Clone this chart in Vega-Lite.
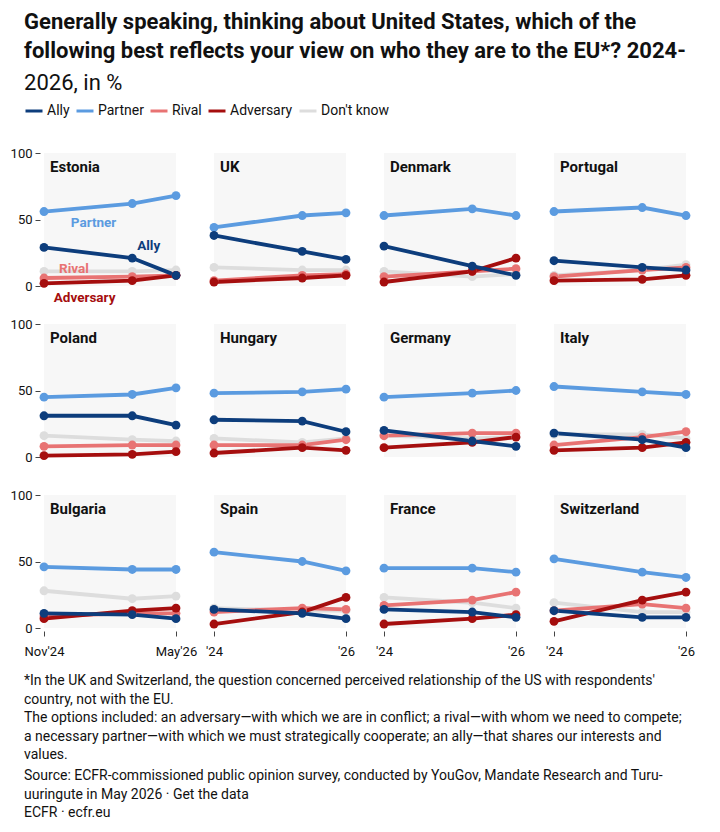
{
  "$schema": "https://vega.github.io/schema/vega-lite/v6.json",
  "background": "white",
  "padding": {"left": 10, "top": 11, "right": 10, "bottom": 8},
  "title": {
    "text": ["Generally speaking, thinking about United States, which of the", "following best reflects your view on who they are to the EU*? 2024-"],
    "subtitle": "2026, in %",
    "anchor": "start", "frame": "bounds", "dx": 14,
    "fontSize": 22, "fontWeight": "bold", "lineHeight": 29, "color": "#111",
    "subtitleFontSize": 22, "subtitleFontWeight": "normal", "subtitleColor": "#111", "subtitleLineHeight": 29, "subtitlePadding": 10,
    "offset": 6
  },
  "config": {
    "font": "Roboto",
    "view": {"stroke": null, "fill": "#f7f7f7"},
    "axis": {"labelFont": "Roboto", "labelFontSize": 13, "labelColor": "#111", "tickColor": "#444", "domain": false, "grid": false, "title": null}
  },
  "data": {"values": [
    {"country": "Estonia", "wave": "2024-11-15T00:00:00", "Ally": 29, "Partner": 56, "Rival": 6, "Adversary": 2, "DK": 11},
    {"country": "Estonia", "wave": "2025-11-15T00:00:00", "Ally": 21, "Partner": 62, "Rival": 7, "Adversary": 4, "DK": 11},
    {"country": "Estonia", "wave": "2026-05-15T00:00:00", "Ally": 8, "Partner": 68, "Rival": 8, "Adversary": 8, "DK": 12},
    {"country": "UK", "wave": "2024-11-15T00:00:00", "Ally": 38, "Partner": 44, "Rival": 4, "Adversary": 3, "DK": 14},
    {"country": "UK", "wave": "2025-11-15T00:00:00", "Ally": 26, "Partner": 53, "Rival": 8, "Adversary": 6, "DK": 12},
    {"country": "UK", "wave": "2026-05-15T00:00:00", "Ally": 20, "Partner": 55, "Rival": 9, "Adversary": 8, "DK": 12},
    {"country": "Denmark", "wave": "2024-11-15T00:00:00", "Ally": 30, "Partner": 53, "Rival": 7, "Adversary": 3, "DK": 11},
    {"country": "Denmark", "wave": "2025-11-15T00:00:00", "Ally": 15, "Partner": 58, "Rival": 11, "Adversary": 11, "DK": 7},
    {"country": "Denmark", "wave": "2026-05-15T00:00:00", "Ally": 8, "Partner": 53, "Rival": 13, "Adversary": 21, "DK": 9},
    {"country": "Portugal", "wave": "2024-11-15T00:00:00", "Ally": 19, "Partner": 56, "Rival": 7, "Adversary": 4, "DK": 8},
    {"country": "Portugal", "wave": "2025-11-15T00:00:00", "Ally": 14, "Partner": 59, "Rival": 12, "Adversary": 5, "DK": 12},
    {"country": "Portugal", "wave": "2026-05-15T00:00:00", "Ally": 12, "Partner": 53, "Rival": 14, "Adversary": 8, "DK": 16},
    {"country": "Poland", "wave": "2024-11-15T00:00:00", "Ally": 31, "Partner": 45, "Rival": 8, "Adversary": 1, "DK": 16},
    {"country": "Poland", "wave": "2025-11-15T00:00:00", "Ally": 31, "Partner": 47, "Rival": 9, "Adversary": 2, "DK": 13},
    {"country": "Poland", "wave": "2026-05-15T00:00:00", "Ally": 24, "Partner": 52, "Rival": 9, "Adversary": 4, "DK": 12},
    {"country": "Hungary", "wave": "2024-11-15T00:00:00", "Ally": 28, "Partner": 48, "Rival": 9, "Adversary": 3, "DK": 14},
    {"country": "Hungary", "wave": "2025-11-15T00:00:00", "Ally": 27, "Partner": 49, "Rival": 9, "Adversary": 7, "DK": 11},
    {"country": "Hungary", "wave": "2026-05-15T00:00:00", "Ally": 19, "Partner": 51, "Rival": 13, "Adversary": 5, "DK": 14},
    {"country": "Germany", "wave": "2024-11-15T00:00:00", "Ally": 20, "Partner": 45, "Rival": 16, "Adversary": 7, "DK": 16},
    {"country": "Germany", "wave": "2025-11-15T00:00:00", "Ally": 12, "Partner": 48, "Rival": 18, "Adversary": 11, "DK": 14},
    {"country": "Germany", "wave": "2026-05-15T00:00:00", "Ally": 8, "Partner": 50, "Rival": 18, "Adversary": 15, "DK": 15},
    {"country": "Italy", "wave": "2024-11-15T00:00:00", "Ally": 18, "Partner": 53, "Rival": 9, "Adversary": 5, "DK": 17},
    {"country": "Italy", "wave": "2025-11-15T00:00:00", "Ally": 13, "Partner": 49, "Rival": 15, "Adversary": 7, "DK": 17},
    {"country": "Italy", "wave": "2026-05-15T00:00:00", "Ally": 7, "Partner": 47, "Rival": 19, "Adversary": 11, "DK": 14},
    {"country": "Bulgaria", "wave": "2024-11-15T00:00:00", "Ally": 11, "Partner": 46, "Rival": 9, "Adversary": 7, "DK": 28},
    {"country": "Bulgaria", "wave": "2025-11-15T00:00:00", "Ally": 10, "Partner": 44, "Rival": 11, "Adversary": 13, "DK": 22},
    {"country": "Bulgaria", "wave": "2026-05-15T00:00:00", "Ally": 7, "Partner": 44, "Rival": 11, "Adversary": 15, "DK": 24},
    {"country": "Spain", "wave": "2024-11-15T00:00:00", "Ally": 14, "Partner": 57, "Rival": 12, "Adversary": 3, "DK": 15},
    {"country": "Spain", "wave": "2025-11-15T00:00:00", "Ally": 11, "Partner": 50, "Rival": 15, "Adversary": 12, "DK": 13},
    {"country": "Spain", "wave": "2026-05-15T00:00:00", "Ally": 7, "Partner": 43, "Rival": 14, "Adversary": 23, "DK": 13},
    {"country": "France", "wave": "2024-11-15T00:00:00", "Ally": 14, "Partner": 45, "Rival": 17, "Adversary": 3, "DK": 23},
    {"country": "France", "wave": "2025-11-15T00:00:00", "Ally": 12, "Partner": 45, "Rival": 21, "Adversary": 7, "DK": 19},
    {"country": "France", "wave": "2026-05-15T00:00:00", "Ally": 8, "Partner": 42, "Rival": 27, "Adversary": 10, "DK": 15},
    {"country": "Switzerland", "wave": "2024-11-15T00:00:00", "Ally": 13, "Partner": 52, "Rival": 13, "Adversary": 5, "DK": 19},
    {"country": "Switzerland", "wave": "2025-11-15T00:00:00", "Ally": 8, "Partner": 42, "Rival": 18, "Adversary": 21, "DK": 12},
    {"country": "Switzerland", "wave": "2026-05-15T00:00:00", "Ally": 8, "Partner": 38, "Rival": 15, "Adversary": 27, "DK": 12}
  ]},
  "spacing": 16,
  "vconcat": [
    {
      "columns": 4,
      "bounds": "flush",
      "spacing": 38,
      "concat": [
        {
          "width": 132, "height": 133,
          "transform": [{"filter": {"field": "country", "equal": "Estonia"}}, {"fold": ["DK", "Rival", "Partner", "Adversary", "Ally"], "as": ["series", "value"]}],
          "layer": [
            {"mark": {"type": "line", "strokeWidth": 3.8, "point": {"filled": true, "size": 78, "opacity": 1}}, "encoding": {
              "x": {"field": "wave", "type": "temporal", "scale": {"domain": [{"year": 2024, "month": 11, "date": 15}, {"year": 2026, "month": 5, "date": 15}], "nice": false}, "axis": null},
              "y": {"field": "value", "type": "quantitative", "scale": {"domain": [0, 100], "nice": false}, "axis": {"values": [0, 50, 100], "offset": 4, "tickSize": 5, "labelPadding": 3}},
              "color": {"field": "series", "type": "nominal", "scale": {"domain": ["Ally", "Partner", "Rival", "Adversary", "DK"], "range": ["#0d3d7c", "#5b9be0", "#e87373", "#a50e0e", "#dddddd"]}, "legend": {"orient": "none", "legendX": -20, "legendY": -52, "direction": "horizontal", "title": null, "symbolType": "stroke", "symbolStrokeWidth": 3, "symbolSize": 289, "labelFontSize": 14, "labelColor": "#111", "labelOffset": 3, "columnPadding": 0, "labelExpr": "datum.label == 'DK' ? \"Don't know\" : datum.label"}}}},
            {"transform": [{"filter": "datum.series === 'Ally' && year(datum.wave) === 2024"}], "mark": {"type": "text", "align": "left", "baseline": "alphabetic", "dx": 6, "dy": 19, "fontSize": 15, "fontWeight": "bold", "color": "#111"}, "encoding": {"x": {"field": "wave", "type": "temporal"}, "y": {"datum": 100}, "text": {"field": "country"}}},
            {
              "data": {"values": [
                {"series": "Partner", "at": "2025-06-08T00:00:00", "v": 44.7},
                {"series": "Ally", "at": "2026-01-22T00:00:00", "v": 27},
                {"series": "Rival", "at": "2025-03-19T00:00:00", "v": 9.8},
                {"series": "Adversary", "at": "2025-05-02T00:00:00", "v": -12}
              ]},
              "mark": {"type": "text", "align": "center", "baseline": "alphabetic", "fontSize": 13.5, "fontWeight": "bold"},
              "encoding": {
                "x": {"field": "at", "type": "temporal"},
                "y": {"field": "v", "type": "quantitative"},
                "text": {"field": "series"},
                "color": {"field": "series", "type": "nominal", "scale": {"domain": ["Ally", "Partner", "Rival", "Adversary", "DK"], "range": ["#0d3d7c", "#5b9be0", "#e87373", "#a50e0e", "#dddddd"]}, "legend": {"orient": "none", "legendX": -20, "legendY": -52, "direction": "horizontal", "title": null, "symbolType": "stroke", "symbolStrokeWidth": 3, "symbolSize": 289, "labelFontSize": 14, "labelColor": "#111", "labelOffset": 3, "columnPadding": 0, "labelExpr": "datum.label == 'DK' ? \"Don't know\" : datum.label"}}
              }
            }
          ]
        },
        {
          "width": 132, "height": 133,
          "transform": [{"filter": {"field": "country", "equal": "UK"}}, {"fold": ["DK", "Rival", "Partner", "Adversary", "Ally"], "as": ["series", "value"]}],
          "layer": [
            {"mark": {"type": "line", "strokeWidth": 3.8, "point": {"filled": true, "size": 78, "opacity": 1}}, "encoding": {
              "x": {"field": "wave", "type": "temporal", "scale": {"domain": [{"year": 2024, "month": 11, "date": 15}, {"year": 2026, "month": 5, "date": 15}], "nice": false}, "axis": null},
              "y": {"field": "value", "type": "quantitative", "scale": {"domain": [0, 100], "nice": false}, "axis": null},
              "color": {"field": "series", "type": "nominal", "scale": {"domain": ["Ally", "Partner", "Rival", "Adversary", "DK"], "range": ["#0d3d7c", "#5b9be0", "#e87373", "#a50e0e", "#dddddd"]}, "legend": {"orient": "none", "legendX": -20, "legendY": -52, "direction": "horizontal", "title": null, "symbolType": "stroke", "symbolStrokeWidth": 3, "symbolSize": 289, "labelFontSize": 14, "labelColor": "#111", "labelOffset": 3, "columnPadding": 0, "labelExpr": "datum.label == 'DK' ? \"Don't know\" : datum.label"}}}},
            {"transform": [{"filter": "datum.series === 'Ally' && year(datum.wave) === 2024"}], "mark": {"type": "text", "align": "left", "baseline": "alphabetic", "dx": 6, "dy": 19, "fontSize": 15, "fontWeight": "bold", "color": "#111"}, "encoding": {"x": {"field": "wave", "type": "temporal"}, "y": {"datum": 100}, "text": {"field": "country"}}}
          ]
        },
        {
          "width": 132, "height": 133,
          "transform": [{"filter": {"field": "country", "equal": "Denmark"}}, {"fold": ["DK", "Rival", "Partner", "Adversary", "Ally"], "as": ["series", "value"]}],
          "layer": [
            {"mark": {"type": "line", "strokeWidth": 3.8, "point": {"filled": true, "size": 78, "opacity": 1}}, "encoding": {
              "x": {"field": "wave", "type": "temporal", "scale": {"domain": [{"year": 2024, "month": 11, "date": 15}, {"year": 2026, "month": 5, "date": 15}], "nice": false}, "axis": null},
              "y": {"field": "value", "type": "quantitative", "scale": {"domain": [0, 100], "nice": false}, "axis": null},
              "color": {"field": "series", "type": "nominal", "scale": {"domain": ["Ally", "Partner", "Rival", "Adversary", "DK"], "range": ["#0d3d7c", "#5b9be0", "#e87373", "#a50e0e", "#dddddd"]}, "legend": {"orient": "none", "legendX": -20, "legendY": -52, "direction": "horizontal", "title": null, "symbolType": "stroke", "symbolStrokeWidth": 3, "symbolSize": 289, "labelFontSize": 14, "labelColor": "#111", "labelOffset": 3, "columnPadding": 0, "labelExpr": "datum.label == 'DK' ? \"Don't know\" : datum.label"}}}},
            {"transform": [{"filter": "datum.series === 'Ally' && year(datum.wave) === 2024"}], "mark": {"type": "text", "align": "left", "baseline": "alphabetic", "dx": 6, "dy": 19, "fontSize": 15, "fontWeight": "bold", "color": "#111"}, "encoding": {"x": {"field": "wave", "type": "temporal"}, "y": {"datum": 100}, "text": {"field": "country"}}}
          ]
        },
        {
          "width": 132, "height": 133,
          "transform": [{"filter": {"field": "country", "equal": "Portugal"}}, {"fold": ["DK", "Rival", "Partner", "Adversary", "Ally"], "as": ["series", "value"]}],
          "layer": [
            {"mark": {"type": "line", "strokeWidth": 3.8, "point": {"filled": true, "size": 78, "opacity": 1}}, "encoding": {
              "x": {"field": "wave", "type": "temporal", "scale": {"domain": [{"year": 2024, "month": 11, "date": 15}, {"year": 2026, "month": 5, "date": 15}], "nice": false}, "axis": null},
              "y": {"field": "value", "type": "quantitative", "scale": {"domain": [0, 100], "nice": false}, "axis": null},
              "color": {"field": "series", "type": "nominal", "scale": {"domain": ["Ally", "Partner", "Rival", "Adversary", "DK"], "range": ["#0d3d7c", "#5b9be0", "#e87373", "#a50e0e", "#dddddd"]}, "legend": {"orient": "none", "legendX": -20, "legendY": -52, "direction": "horizontal", "title": null, "symbolType": "stroke", "symbolStrokeWidth": 3, "symbolSize": 289, "labelFontSize": 14, "labelColor": "#111", "labelOffset": 3, "columnPadding": 0, "labelExpr": "datum.label == 'DK' ? \"Don't know\" : datum.label"}}}},
            {"transform": [{"filter": "datum.series === 'Ally' && year(datum.wave) === 2024"}], "mark": {"type": "text", "align": "left", "baseline": "alphabetic", "dx": 6, "dy": 19, "fontSize": 15, "fontWeight": "bold", "color": "#111"}, "encoding": {"x": {"field": "wave", "type": "temporal"}, "y": {"datum": 100}, "text": {"field": "country"}}}
          ]
        },
        {
          "width": 132, "height": 133,
          "transform": [{"filter": {"field": "country", "equal": "Poland"}}, {"fold": ["DK", "Rival", "Partner", "Adversary", "Ally"], "as": ["series", "value"]}],
          "layer": [
            {"mark": {"type": "line", "strokeWidth": 3.8, "point": {"filled": true, "size": 78, "opacity": 1}}, "encoding": {
              "x": {"field": "wave", "type": "temporal", "scale": {"domain": [{"year": 2024, "month": 11, "date": 15}, {"year": 2026, "month": 5, "date": 15}], "nice": false}, "axis": null},
              "y": {"field": "value", "type": "quantitative", "scale": {"domain": [0, 100], "nice": false}, "axis": {"values": [0, 50, 100], "offset": 4, "tickSize": 5, "labelPadding": 3}},
              "color": {"field": "series", "type": "nominal", "scale": {"domain": ["Ally", "Partner", "Rival", "Adversary", "DK"], "range": ["#0d3d7c", "#5b9be0", "#e87373", "#a50e0e", "#dddddd"]}, "legend": {"orient": "none", "legendX": -20, "legendY": -52, "direction": "horizontal", "title": null, "symbolType": "stroke", "symbolStrokeWidth": 3, "symbolSize": 289, "labelFontSize": 14, "labelColor": "#111", "labelOffset": 3, "columnPadding": 0, "labelExpr": "datum.label == 'DK' ? \"Don't know\" : datum.label"}}}},
            {"transform": [{"filter": "datum.series === 'Ally' && year(datum.wave) === 2024"}], "mark": {"type": "text", "align": "left", "baseline": "alphabetic", "dx": 6, "dy": 19, "fontSize": 15, "fontWeight": "bold", "color": "#111"}, "encoding": {"x": {"field": "wave", "type": "temporal"}, "y": {"datum": 100}, "text": {"field": "country"}}}
          ]
        },
        {
          "width": 132, "height": 133,
          "transform": [{"filter": {"field": "country", "equal": "Hungary"}}, {"fold": ["DK", "Rival", "Partner", "Adversary", "Ally"], "as": ["series", "value"]}],
          "layer": [
            {"mark": {"type": "line", "strokeWidth": 3.8, "point": {"filled": true, "size": 78, "opacity": 1}}, "encoding": {
              "x": {"field": "wave", "type": "temporal", "scale": {"domain": [{"year": 2024, "month": 11, "date": 15}, {"year": 2026, "month": 5, "date": 15}], "nice": false}, "axis": null},
              "y": {"field": "value", "type": "quantitative", "scale": {"domain": [0, 100], "nice": false}, "axis": null},
              "color": {"field": "series", "type": "nominal", "scale": {"domain": ["Ally", "Partner", "Rival", "Adversary", "DK"], "range": ["#0d3d7c", "#5b9be0", "#e87373", "#a50e0e", "#dddddd"]}, "legend": {"orient": "none", "legendX": -20, "legendY": -52, "direction": "horizontal", "title": null, "symbolType": "stroke", "symbolStrokeWidth": 3, "symbolSize": 289, "labelFontSize": 14, "labelColor": "#111", "labelOffset": 3, "columnPadding": 0, "labelExpr": "datum.label == 'DK' ? \"Don't know\" : datum.label"}}}},
            {"transform": [{"filter": "datum.series === 'Ally' && year(datum.wave) === 2024"}], "mark": {"type": "text", "align": "left", "baseline": "alphabetic", "dx": 6, "dy": 19, "fontSize": 15, "fontWeight": "bold", "color": "#111"}, "encoding": {"x": {"field": "wave", "type": "temporal"}, "y": {"datum": 100}, "text": {"field": "country"}}}
          ]
        },
        {
          "width": 132, "height": 133,
          "transform": [{"filter": {"field": "country", "equal": "Germany"}}, {"fold": ["DK", "Rival", "Partner", "Adversary", "Ally"], "as": ["series", "value"]}],
          "layer": [
            {"mark": {"type": "line", "strokeWidth": 3.8, "point": {"filled": true, "size": 78, "opacity": 1}}, "encoding": {
              "x": {"field": "wave", "type": "temporal", "scale": {"domain": [{"year": 2024, "month": 11, "date": 15}, {"year": 2026, "month": 5, "date": 15}], "nice": false}, "axis": null},
              "y": {"field": "value", "type": "quantitative", "scale": {"domain": [0, 100], "nice": false}, "axis": null},
              "color": {"field": "series", "type": "nominal", "scale": {"domain": ["Ally", "Partner", "Rival", "Adversary", "DK"], "range": ["#0d3d7c", "#5b9be0", "#e87373", "#a50e0e", "#dddddd"]}, "legend": {"orient": "none", "legendX": -20, "legendY": -52, "direction": "horizontal", "title": null, "symbolType": "stroke", "symbolStrokeWidth": 3, "symbolSize": 289, "labelFontSize": 14, "labelColor": "#111", "labelOffset": 3, "columnPadding": 0, "labelExpr": "datum.label == 'DK' ? \"Don't know\" : datum.label"}}}},
            {"transform": [{"filter": "datum.series === 'Ally' && year(datum.wave) === 2024"}], "mark": {"type": "text", "align": "left", "baseline": "alphabetic", "dx": 6, "dy": 19, "fontSize": 15, "fontWeight": "bold", "color": "#111"}, "encoding": {"x": {"field": "wave", "type": "temporal"}, "y": {"datum": 100}, "text": {"field": "country"}}}
          ]
        },
        {
          "width": 132, "height": 133,
          "transform": [{"filter": {"field": "country", "equal": "Italy"}}, {"fold": ["DK", "Rival", "Partner", "Adversary", "Ally"], "as": ["series", "value"]}],
          "layer": [
            {"mark": {"type": "line", "strokeWidth": 3.8, "point": {"filled": true, "size": 78, "opacity": 1}}, "encoding": {
              "x": {"field": "wave", "type": "temporal", "scale": {"domain": [{"year": 2024, "month": 11, "date": 15}, {"year": 2026, "month": 5, "date": 15}], "nice": false}, "axis": null},
              "y": {"field": "value", "type": "quantitative", "scale": {"domain": [0, 100], "nice": false}, "axis": null},
              "color": {"field": "series", "type": "nominal", "scale": {"domain": ["Ally", "Partner", "Rival", "Adversary", "DK"], "range": ["#0d3d7c", "#5b9be0", "#e87373", "#a50e0e", "#dddddd"]}, "legend": {"orient": "none", "legendX": -20, "legendY": -52, "direction": "horizontal", "title": null, "symbolType": "stroke", "symbolStrokeWidth": 3, "symbolSize": 289, "labelFontSize": 14, "labelColor": "#111", "labelOffset": 3, "columnPadding": 0, "labelExpr": "datum.label == 'DK' ? \"Don't know\" : datum.label"}}}},
            {"transform": [{"filter": "datum.series === 'Ally' && year(datum.wave) === 2024"}], "mark": {"type": "text", "align": "left", "baseline": "alphabetic", "dx": 6, "dy": 19, "fontSize": 15, "fontWeight": "bold", "color": "#111"}, "encoding": {"x": {"field": "wave", "type": "temporal"}, "y": {"datum": 100}, "text": {"field": "country"}}}
          ]
        },
        {
          "width": 132, "height": 133,
          "transform": [{"filter": {"field": "country", "equal": "Bulgaria"}}, {"fold": ["DK", "Rival", "Partner", "Adversary", "Ally"], "as": ["series", "value"]}],
          "layer": [
            {"mark": {"type": "line", "strokeWidth": 3.8, "point": {"filled": true, "size": 78, "opacity": 1}}, "encoding": {
              "x": {"field": "wave", "type": "temporal", "scale": {"domain": [{"year": 2024, "month": 11, "date": 15}, {"year": 2026, "month": 5, "date": 15}], "nice": false}, "axis": {"values": [{"year": 2024, "month": 11, "date": 15}, {"year": 2026, "month": 5, "date": 15}], "format": "%b'%y", "formatType": "time", "offset": 3, "tickSize": 5, "labelPadding": 9, "labelFlush": false, "labelOverlap": false}},
              "y": {"field": "value", "type": "quantitative", "scale": {"domain": [0, 100], "nice": false}, "axis": {"values": [0, 50, 100], "offset": 4, "tickSize": 5, "labelPadding": 3}},
              "color": {"field": "series", "type": "nominal", "scale": {"domain": ["Ally", "Partner", "Rival", "Adversary", "DK"], "range": ["#0d3d7c", "#5b9be0", "#e87373", "#a50e0e", "#dddddd"]}, "legend": {"orient": "none", "legendX": -20, "legendY": -52, "direction": "horizontal", "title": null, "symbolType": "stroke", "symbolStrokeWidth": 3, "symbolSize": 289, "labelFontSize": 14, "labelColor": "#111", "labelOffset": 3, "columnPadding": 0, "labelExpr": "datum.label == 'DK' ? \"Don't know\" : datum.label"}}}},
            {"transform": [{"filter": "datum.series === 'Ally' && year(datum.wave) === 2024"}], "mark": {"type": "text", "align": "left", "baseline": "alphabetic", "dx": 6, "dy": 19, "fontSize": 15, "fontWeight": "bold", "color": "#111"}, "encoding": {"x": {"field": "wave", "type": "temporal"}, "y": {"datum": 100}, "text": {"field": "country"}}}
          ]
        },
        {
          "width": 132, "height": 133,
          "transform": [{"filter": {"field": "country", "equal": "Spain"}}, {"fold": ["DK", "Rival", "Partner", "Adversary", "Ally"], "as": ["series", "value"]}],
          "layer": [
            {"mark": {"type": "line", "strokeWidth": 3.8, "point": {"filled": true, "size": 78, "opacity": 1}}, "encoding": {
              "x": {"field": "wave", "type": "temporal", "scale": {"domain": [{"year": 2024, "month": 11, "date": 15}, {"year": 2026, "month": 5, "date": 15}], "nice": false}, "axis": {"values": [{"year": 2024, "month": 11, "date": 15}, {"year": 2026, "month": 5, "date": 15}], "format": "'%y", "formatType": "time", "offset": 3, "tickSize": 5, "labelPadding": 9, "labelFlush": false, "labelOverlap": false}},
              "y": {"field": "value", "type": "quantitative", "scale": {"domain": [0, 100], "nice": false}, "axis": null},
              "color": {"field": "series", "type": "nominal", "scale": {"domain": ["Ally", "Partner", "Rival", "Adversary", "DK"], "range": ["#0d3d7c", "#5b9be0", "#e87373", "#a50e0e", "#dddddd"]}, "legend": {"orient": "none", "legendX": -20, "legendY": -52, "direction": "horizontal", "title": null, "symbolType": "stroke", "symbolStrokeWidth": 3, "symbolSize": 289, "labelFontSize": 14, "labelColor": "#111", "labelOffset": 3, "columnPadding": 0, "labelExpr": "datum.label == 'DK' ? \"Don't know\" : datum.label"}}}},
            {"transform": [{"filter": "datum.series === 'Ally' && year(datum.wave) === 2024"}], "mark": {"type": "text", "align": "left", "baseline": "alphabetic", "dx": 6, "dy": 19, "fontSize": 15, "fontWeight": "bold", "color": "#111"}, "encoding": {"x": {"field": "wave", "type": "temporal"}, "y": {"datum": 100}, "text": {"field": "country"}}}
          ]
        },
        {
          "width": 132, "height": 133,
          "transform": [{"filter": {"field": "country", "equal": "France"}}, {"fold": ["DK", "Rival", "Partner", "Adversary", "Ally"], "as": ["series", "value"]}],
          "layer": [
            {"mark": {"type": "line", "strokeWidth": 3.8, "point": {"filled": true, "size": 78, "opacity": 1}}, "encoding": {
              "x": {"field": "wave", "type": "temporal", "scale": {"domain": [{"year": 2024, "month": 11, "date": 15}, {"year": 2026, "month": 5, "date": 15}], "nice": false}, "axis": {"values": [{"year": 2024, "month": 11, "date": 15}, {"year": 2026, "month": 5, "date": 15}], "format": "'%y", "formatType": "time", "offset": 3, "tickSize": 5, "labelPadding": 9, "labelFlush": false, "labelOverlap": false}},
              "y": {"field": "value", "type": "quantitative", "scale": {"domain": [0, 100], "nice": false}, "axis": null},
              "color": {"field": "series", "type": "nominal", "scale": {"domain": ["Ally", "Partner", "Rival", "Adversary", "DK"], "range": ["#0d3d7c", "#5b9be0", "#e87373", "#a50e0e", "#dddddd"]}, "legend": {"orient": "none", "legendX": -20, "legendY": -52, "direction": "horizontal", "title": null, "symbolType": "stroke", "symbolStrokeWidth": 3, "symbolSize": 289, "labelFontSize": 14, "labelColor": "#111", "labelOffset": 3, "columnPadding": 0, "labelExpr": "datum.label == 'DK' ? \"Don't know\" : datum.label"}}}},
            {"transform": [{"filter": "datum.series === 'Ally' && year(datum.wave) === 2024"}], "mark": {"type": "text", "align": "left", "baseline": "alphabetic", "dx": 6, "dy": 19, "fontSize": 15, "fontWeight": "bold", "color": "#111"}, "encoding": {"x": {"field": "wave", "type": "temporal"}, "y": {"datum": 100}, "text": {"field": "country"}}}
          ]
        },
        {
          "width": 132, "height": 133,
          "transform": [{"filter": {"field": "country", "equal": "Switzerland"}}, {"fold": ["DK", "Rival", "Partner", "Adversary", "Ally"], "as": ["series", "value"]}],
          "layer": [
            {"mark": {"type": "line", "strokeWidth": 3.8, "point": {"filled": true, "size": 78, "opacity": 1}}, "encoding": {
              "x": {"field": "wave", "type": "temporal", "scale": {"domain": [{"year": 2024, "month": 11, "date": 15}, {"year": 2026, "month": 5, "date": 15}], "nice": false}, "axis": {"values": [{"year": 2024, "month": 11, "date": 15}, {"year": 2026, "month": 5, "date": 15}], "format": "'%y", "formatType": "time", "offset": 3, "tickSize": 5, "labelPadding": 9, "labelFlush": false, "labelOverlap": false}},
              "y": {"field": "value", "type": "quantitative", "scale": {"domain": [0, 100], "nice": false}, "axis": null},
              "color": {"field": "series", "type": "nominal", "scale": {"domain": ["Ally", "Partner", "Rival", "Adversary", "DK"], "range": ["#0d3d7c", "#5b9be0", "#e87373", "#a50e0e", "#dddddd"]}, "legend": {"orient": "none", "legendX": -20, "legendY": -52, "direction": "horizontal", "title": null, "symbolType": "stroke", "symbolStrokeWidth": 3, "symbolSize": 289, "labelFontSize": 14, "labelColor": "#111", "labelOffset": 3, "columnPadding": 0, "labelExpr": "datum.label == 'DK' ? \"Don't know\" : datum.label"}}}},
            {"transform": [{"filter": "datum.series === 'Ally' && year(datum.wave) === 2024"}], "mark": {"type": "text", "align": "left", "baseline": "alphabetic", "dx": 6, "dy": 19, "fontSize": 15, "fontWeight": "bold", "color": "#111"}, "encoding": {"x": {"field": "wave", "type": "temporal"}, "y": {"datum": 100}, "text": {"field": "country"}}}
          ]
        }
      ]
    },
    {
      "spacing": 7,
      "vconcat": [
        {
          "data": {"values": [
            {"n": 1, "t": "*In the UK and Switzerland, the question concerned perceived relationship of the US with respondents'"},
            {"n": 2, "t": "country, not with the EU."},
            {"n": 3, "t": "The options included: an adversary—with which we are in conflict; a rival—with whom we need to compete;"},
            {"n": 4, "t": "a necessary partner—with which we must strategically cooperate; an ally—that shares our interests and"},
            {"n": 5, "t": "values."}
          ]},
          "width": 640, "height": 74,
          "view": {"fill": null, "stroke": null},
          "mark": {"type": "text", "align": "left", "baseline": "middle", "fontSize": 14, "dx": -20, "color": "#111"},
          "encoding": {
            "y": {"field": "n", "type": "ordinal", "axis": null, "scale": {"type": "point", "padding": 0}},
            "x": {"value": 0},
            "text": {"field": "t"}
          }
        },
        {
          "data": {"values": [
            {"n": 1, "t": "Source: ECFR-commissioned public opinion survey, conducted by YouGov, Mandate Research and Turu-"},
            {"n": 2, "t": "uuringute in May 2026 · Get the data"},
            {"n": 3, "t": "ECFR · ecfr.eu"}
          ]},
          "width": 640, "height": 37,
          "view": {"fill": null, "stroke": null},
          "mark": {"type": "text", "align": "left", "baseline": "middle", "fontSize": 14, "dx": -20, "color": "#111"},
          "encoding": {
            "y": {"field": "n", "type": "ordinal", "axis": null, "scale": {"type": "point", "padding": 0}},
            "x": {"value": 0},
            "text": {"field": "t"}
          }
        }
      ]
    }
  ]
}
